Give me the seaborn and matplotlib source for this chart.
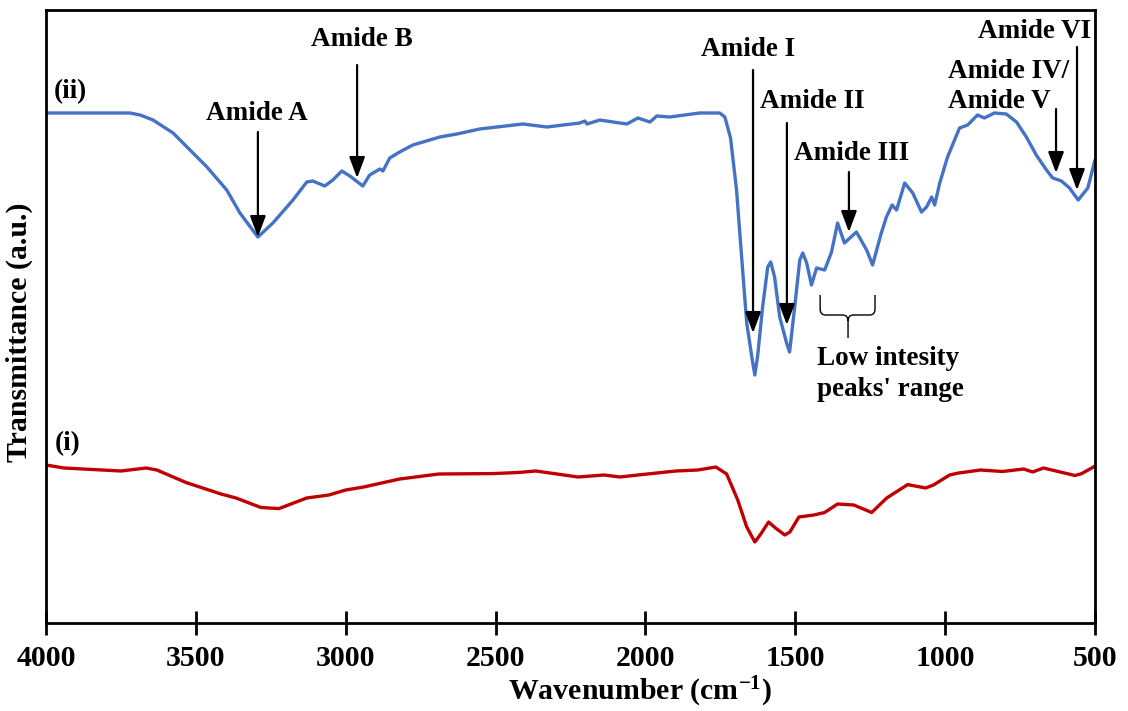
import numpy as np
import pandas as pd
import matplotlib
matplotlib.use("Agg")
import matplotlib.pyplot as plt
import seaborn as sns
from matplotlib.path import Path
from matplotlib.patches import PathPatch

# ---------------- data ----------------
wn_ii = [4000, 3850, 3720, 3686, 3643, 3576, 3463, 3397, 3353, 3293, 3243, 3176, 3130, 3110, 3070,
         3043, 3013, 2986, 2943, 2920, 2886, 2876, 2853, 2820, 2776, 2686, 2629, 2553, 2409,
         2329, 2219, 2202, 2195, 2152, 2108, 2062, 2025, 1985, 1962, 1919, 1819, 1752, 1735,
         1716, 1696, 1679, 1662, 1645, 1635, 1626, 1609, 1592, 1582, 1569, 1552, 1529, 1519,
         1502, 1485, 1475, 1462, 1446, 1429, 1402, 1379, 1359, 1336, 1296, 1262, 1242, 1215,
         1196, 1177, 1162, 1135, 1108, 1079, 1062, 1045, 1035, 1018, 992, 952, 925, 892, 869,
         836, 796, 762, 729, 696, 662, 641, 612, 585, 556, 524, 500]
t_ii = [510, 510, 510, 508, 503, 490, 456, 433, 410, 386, 400, 423, 441, 442, 437,
        443, 452, 447, 437, 448, 454, 452, 465, 471, 478, 486, 489, 494, 499,
        496, 500, 502, 499, 503, 501, 499, 505, 501, 507, 506, 510, 510, 506,
        485, 433, 366, 300, 266, 248, 266, 316, 356, 361, 346, 306, 280, 271,
        316, 363, 370, 360, 338, 355, 353, 371, 400, 380, 391, 373, 358, 388,
        406, 418, 413, 440, 430, 411, 416, 426, 418, 440, 466, 495, 498, 508, 505,
        510, 509, 501, 486, 468, 453, 445, 442, 435, 423, 435, 463]

wn_i = [4000, 3940, 3750, 3666, 3630, 3533, 3416, 3366, 3283, 3223, 3130, 3056, 3000, 2940,
        2820, 2689, 2509, 2425, 2366, 2295, 2225, 2138, 2085, 2025, 1898, 1825, 1765, 1729,
        1692, 1662, 1635, 1615, 1589, 1566, 1535, 1518, 1488, 1438, 1402, 1359, 1305, 1245,
        1195, 1125, 1065, 1039, 985, 955, 882, 809, 738, 708, 672, 567, 545, 511, 500]
t_i = [158, 155, 152, 155, 153, 140.5, 129, 125, 115.5, 114.4, 125, 128, 133, 136,
       144, 149, 149.4, 150.5, 152, 149, 146, 148, 146, 148, 152, 153, 156, 149,
       123, 96, 81, 89, 101, 95, 88, 91, 106, 108, 110.5, 119, 118, 110.5,
       125, 138.4, 135, 138, 148, 150, 153, 151.5, 154, 151, 155, 147.5, 149.3, 155, 157]

x_ticks = [4000, 3500, 3000, 2500, 2000, 1500, 1000, 500]
x_tick_labels = ["4000", "3500", "3000", "2500", "2000", "1500", "1000", "500"]

# annotation labels
amide_labels = ["Amide A", "Amide B", "Amide I", "Amide II", "Amide III", "Amide VI"]
amide_text_x = [3296, 2946, 1658, 1444, 1311, 700]
amide_text_y = [510, 584, 574, 522, 470, 592]
arrow_x = [3293, 2962, 1641, 1528, 1321, 560]
arrow_top = [491, 558, 553, 500, 451, 576]
arrow_tip = [386, 445, 290, 298, 391, 433]

# ---------------- style ----------------
sns.set_theme(style="white")
plt.rcParams['font.family'] = ['Liberation Serif', 'DejaVu Serif']
plt.rcParams['font.weight'] = 'bold'
plt.rcParams['text.color'] = 'black'
plt.rcParams['axes.labelcolor'] = 'black'
plt.rcParams['xtick.color'] = 'black'
plt.rcParams['mathtext.fontset'] = 'custom'
plt.rcParams['mathtext.rm'] = 'Liberation Serif:bold'
plt.rcParams['mathtext.bf'] = 'Liberation Serif:bold'
plt.rcParams['mathtext.it'] = 'Liberation Serif:bold'
plt.rcParams['mathtext.default'] = 'rm'

W, H = 1128, 711
fig = plt.figure(figsize=(W / 100, H / 100), dpi=100)
ax = fig.add_axes([46 / W, 88 / H, 1049 / W, 613 / H])

df_ii = pd.DataFrame({"wn": wn_ii, "T": t_ii})
df_i = pd.DataFrame({"wn": wn_i, "T": t_i})
sns.lineplot(data=df_ii, x="wn", y="T", ax=ax, color="#4472C4", lw=2.4, sort=False, estimator=None)
sns.lineplot(data=df_i, x="wn", y="T", ax=ax, color="#C00000", lw=2.4, sort=False, estimator=None)

ax.set_xlim(4000, 500)
ax.set_ylim(0, 613)
ax.set_yticks([])
ax.set_xticks(x_ticks)
ax.set_xticklabels(x_tick_labels, fontsize=21.5, fontweight='bold', color='black')
ax.tick_params(axis='x', direction='inout', length=17, width=2, pad=7, colors='black',
               bottom=True)
for s in ax.spines.values():
    s.set_color('black')
    s.set_linewidth(2)

ax.set_xlabel("Wavenumber (cm$^{\\mathrm{-1}}$)", fontsize=21.5, fontweight='bold', va='center',
              color='black')
ax.xaxis.set_label_coords(0.566, -0.113)
ax.set_ylabel("Transmittance (a.u.)", fontsize=21.5, fontweight='bold', va='center', color='black')
ax.yaxis.set_label_coords(-0.025, 0.475)

fs = 19.5
arrow_style = dict(arrowstyle='-|>,head_length=0.4,head_width=0.15', mutation_scale=32,
                   lw=1.6, color='black', shrinkA=0, shrinkB=0)
for lab, tx, ty, axx, atop, atip in zip(amide_labels, amide_text_x, amide_text_y,
                                        arrow_x, arrow_top, arrow_tip):
    ax.text(tx, ty, lab, ha='center', va='center', fontsize=fs, fontweight='bold', color='black')
    ax.annotate('', xy=(axx, atip), xytext=(axx, atop), arrowprops=arrow_style)

# Amide IV / Amide V
ax.text(990, 552, "Amide IV/", ha='left', va='center', fontsize=fs, fontweight='bold', color='black')
ax.text(990, 522, "Amide V", ha='left', va='center', fontsize=fs, fontweight='bold', color='black')
ax.annotate('', xy=(630, 450), xytext=(630, 514), arrowprops=arrow_style)

# spectrum labels
ax.text(3973, 531, "(ii)", ha='left', va='center', fontsize=fs, fontweight='bold', color='black')
ax.text(3970, 179, "(i)", ha='left', va='center', fontsize=fs, fontweight='bold', color='black')

# brace for low intensity peaks
bl, br, bm = 1417, 1234, 1324
btop, bbar, btip = 328, 308, 285
dx, dy = 18, 6
verts = [(bl, btop), (bl, bbar + dy), (bl, bbar), (bl - dx, bbar), (bm + dx, bbar),
         (bm, bbar), (bm, bbar - dy), (bm, btip),
         (bm, bbar - dy), (bm, bbar), (bm - dx, bbar), (br + dx, bbar), (br, bbar),
         (br, bbar + dy), (br, btop)]
codes = [Path.MOVETO, Path.LINETO, Path.CURVE3, Path.CURVE3, Path.LINETO,
         Path.CURVE3, Path.CURVE3, Path.LINETO,
         Path.MOVETO, Path.CURVE3, Path.CURVE3, Path.LINETO, Path.CURVE3,
         Path.CURVE3, Path.LINETO]
ax.add_patch(PathPatch(Path(verts, codes), fill=False, lw=1.0, color='black'))
ax.text(1427, 249, "Low intesity\npeaks' range", ha='left', va='center', fontsize=fs,
        fontweight='bold', linespacing=1.3, color='black')

fig.savefig("out.png", dpi=100)
